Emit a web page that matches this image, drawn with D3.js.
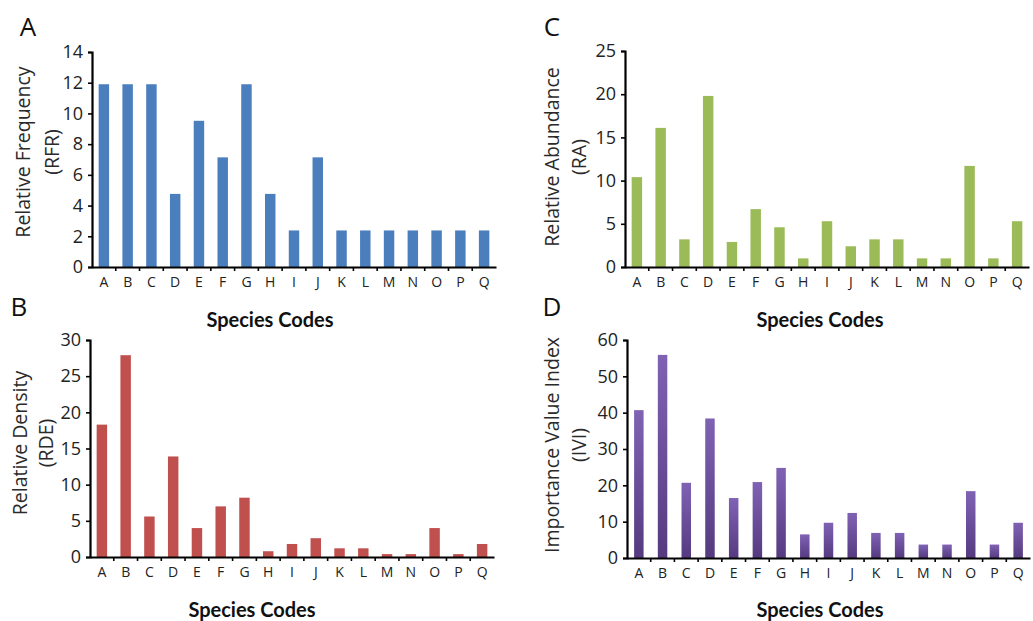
<!DOCTYPE html>
<html lang="en">
<head>
<meta charset="UTF-8">
<title>Species importance panels</title>
<style>
    body { margin: 0; background: #fff; }
    .axis path, .axis line { stroke: #000; }
    .axis path { stroke-width: 2.2; }
    .axis line { stroke-width: 1.6; }
    .axis text { font-family: "Open Sans", sans-serif; fill: #222; }
</style>
</head>
<body>
<script src="https://d3js.org/d3.v7.min.js"></script>
<script>
    // values
    var species = ["A","B","C","D","E","F","G","H","I","J","K","L","M","N","O","P","Q"];
    var rfrValues = [11.9, 11.9, 11.9, 4.76, 9.52, 7.14, 11.9, 4.76, 2.38, 7.14, 2.38, 2.38, 2.38, 2.38, 2.38, 2.38, 2.38];
    var rdeValues = [18.3, 27.9, 5.6, 13.9, 4.0, 7.0, 8.2, 0.8, 1.8, 2.6, 1.2, 1.2, 0.4, 0.4, 4.0, 0.4, 1.8];
    var raValues  = [10.4, 16.1, 3.2, 19.8, 2.9, 6.7, 4.6, 1.0, 5.3, 2.4, 3.2, 3.2, 1.0, 1.0, 11.7, 1.0, 5.3];
    var iviValues = [40.7, 55.9, 20.7, 38.4, 16.5, 20.9, 24.8, 6.5, 9.7, 12.4, 6.9, 6.9, 3.7, 3.7, 18.4, 3.7, 9.7];
    var rfrTicks = [0, 2, 4, 6, 8, 10, 12, 14];
    var rdeTicks = [0, 5, 10, 15, 20, 25, 30];
    var raTicks  = [0, 5, 10, 15, 20, 25];
    var iviTicks = [0, 10, 20, 30, 40, 50, 60];

    var svg = d3.select("body").append("svg")
        .attr("width", 1033)
        .attr("height", 621);

    var defs = svg.append("defs");
    var grad = defs.append("linearGradient")
        .attr("id", "purpleGrad")
        .attr("x1", 0).attr("y1", 0).attr("x2", 0).attr("y2", 1);
    grad.append("stop").attr("offset", "0%").attr("stop-color", "#8062b4");
    grad.append("stop").attr("offset", "100%").attr("stop-color", "#553a80");

    // layout of each panel
    var panels = [
        {letter: "A", values: rfrValues, ticks: rfrTicks, color: "#4a7ebd",
         left: 92, right: 496, top: 52, bottom: 267, barPad: 0.56,
         yTitle: ["Relative Frequency", "(RFR)"], yTitleX: [23, 52], yTitleY: 152,
         letterX: 28, letterY: 27, xTitleX: 270, xTitleY: 320},
        {letter: "B", values: rdeValues, ticks: rdeTicks, color: "#c0504d",
         left: 90, right: 494, top: 340, bottom: 557, barPad: 0.56,
         yTitle: ["Relative Density", "(RDE)"], yTitleX: [20, 46], yTitleY: 443,
         letterX: 19, letterY: 307, xTitleX: 252, xTitleY: 610},
        {letter: "C", values: raValues, ticks: raTicks, color: "#9bbb59",
         left: 625, right: 1029, top: 51, bottom: 267, barPad: 0.56,
         yTitle: ["Relative Abundance", "(RA)"], yTitleX: [552, 579], yTitleY: 157,
         letterX: 552, letterY: 27, xTitleX: 820, xTitleY: 320},
        {letter: "D", values: iviValues, ticks: iviTicks, color: "url(#purpleGrad)",
         left: 627, right: 1030, top: 340, bottom: 558, barPad: 0.6,
         yTitle: ["Importance Value Index", "(IVI)"], yTitleX: [552, 579], yTitleY: 445,
         letterX: 552, letterY: 307, xTitleX: 820, xTitleY: 610}
    ];

    panels.forEach(function(p) {
        var x = d3.scaleBand().domain(species).range([p.left, p.right]).paddingInner(p.barPad).paddingOuter(p.barPad / 2);
        var step = d3.scaleBand().domain(species).range([p.left, p.right]);
        var y = d3.scaleLinear().domain([0, d3.max(p.ticks)]).range([p.bottom, p.top]);

        svg.append("g").selectAll("rect")
            .data(p.values)
            .enter().append("rect")
            .attr("x", function(d, i) { return x(species[i]); })
            .attr("y", function(d) { return y(d); })
            .attr("width", x.bandwidth())
            .attr("height", function(d) { return y(0) - y(d); })
            .attr("fill", p.color);

        // y axis
        var gy = svg.append("g")
            .attr("class", "axis")
            .attr("transform", "translate(" + p.left + ",0)")
            .call(d3.axisLeft(y).tickValues(p.ticks).tickSize(4).tickSizeOuter(4).tickPadding(5));
        gy.selectAll("text").style("font-size", "18px");

        // x axis with labels
        var gx = svg.append("g")
            .attr("class", "axis")
            .attr("transform", "translate(0," + p.bottom + ")")
            .call(d3.axisBottom(step).tickSize(0).tickSizeOuter(0).tickPadding(10));
        gx.selectAll("text").style("font-size", "14px");

        // small ticks between categories
        gx.selectAll(".sep")
            .data(species.slice(1))
            .enter().append("line")
            .attr("x1", function(d) { return step(d); })
            .attr("x2", function(d) { return step(d); })
            .attr("y1", 0).attr("y2", 4)
            .attr("stroke", "#000").attr("stroke-width", 1.6);

        // y axis title, two lines
        p.yTitle.forEach(function(t, i) {
            svg.append("text")
                .attr("transform", "translate(" + p.yTitleX[i] + "," + p.yTitleY + ") rotate(-90)")
                .attr("text-anchor", "middle")
                .attr("dy", "0.35em")
                .style("font-family", "Open Sans, sans-serif")
                .style("font-size", "19.5px")
                .style("fill", "#2a2a2a")
                .text(t);
        });

        svg.append("text")
            .attr("x", p.letterX).attr("y", p.letterY)
            .attr("text-anchor", "middle")
            .attr("dy", "0.36em")
            .style("font-family", "Open Sans, sans-serif")
            .style("font-size", "26px")
            .style("fill", "#111")
            .text(p.letter);

        svg.append("text")
            .attr("x", p.xTitleX).attr("y", p.xTitleY)
            .attr("text-anchor", "middle")
            .attr("dy", "0.36em")
            .style("font-family", "Lato, sans-serif")
            .style("font-weight", "bold")
            .style("font-size", "20px")
            .style("fill", "#111")
            .text("Species Codes");
    });
</script>
</body>
</html>
